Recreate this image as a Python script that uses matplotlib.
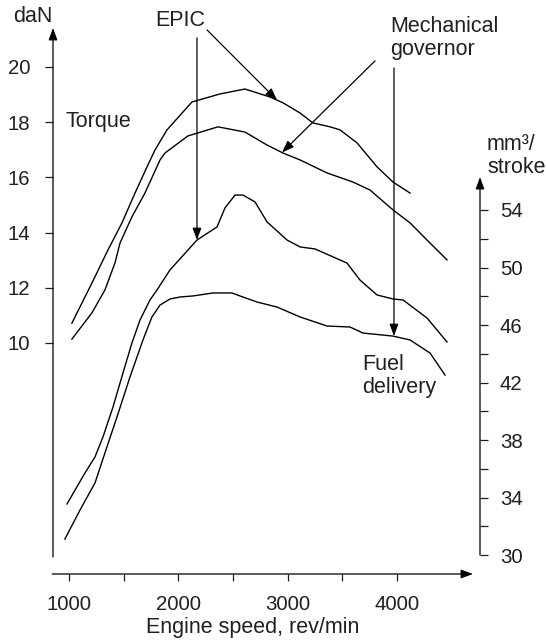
import numpy as np
import matplotlib.pyplot as plt

plt.rcParams['font.family'] = ['Liberation Sans', 'DejaVu Sans']
plt.rcParams['font.size'] = 14.7
INK = '#231f20'
LABEL_SIZE = 15.5

# torque, daN (left scale)
rpm_tq_epic = [1027, 1210, 1357, 1485, 1604, 1714, 1787, 1897, 2125, 2381, 2610, 2839,
               2958, 3114, 3232, 3388, 3479, 3635, 3818, 3964, 4120]
tq_epic = [10.72, 12.17, 13.37, 14.35, 15.43, 16.38, 16.99, 17.72, 18.73, 19.02, 19.20,
           18.91, 18.70, 18.33, 17.97, 17.83, 17.72, 17.25, 16.38, 15.83, 15.43]

rpm_tq_mech = [1027, 1210, 1329, 1421, 1467, 1576, 1695, 1833, 1878, 2088, 2363, 2610,
               2812, 2958, 3114, 3360, 3598, 3754, 3964, 4120, 4275, 4458]
tq_mech = [10.14, 11.09, 11.92, 12.90, 13.62, 14.57, 15.43, 16.63, 16.88, 17.50, 17.83,
           17.64, 17.17, 16.88, 16.63, 16.16, 15.83, 15.54, 14.82, 14.35, 13.73, 13.01]

# fuel delivery, mm3/stroke (right scale)
rpm_fuel_epic = [982, 1146, 1238, 1311, 1403, 1494, 1576, 1650, 1741, 1805, 1924, 2171,
                 2354, 2427, 2519, 2592, 2702, 2812, 2995, 3114, 3251, 3543, 3662, 3818,
                 3964, 4056, 4275, 4458]
fuel_epic = [33.55, 35.70, 36.82, 38.21, 40.30, 42.66, 44.75, 46.35, 47.74, 48.43, 49.83,
             51.91, 52.82, 54.14, 55.04, 55.04, 54.56, 53.17, 51.91, 51.43, 51.29, 50.31,
             49.13, 48.09, 47.81, 47.74, 46.49, 44.82]

rpm_fuel_mech = [963, 1101, 1238, 1329, 1439, 1558, 1677, 1759, 1833, 1924, 2016, 2134,
                 2317, 2491, 2565, 2720, 2903, 3114, 3360, 3571, 3690, 3964, 4120, 4303,
                 4440]
fuel_mech = [31.11, 33.13, 35.01, 37.10, 39.60, 42.38, 44.96, 46.56, 47.39, 47.81, 47.95,
             48.02, 48.23, 48.23, 48.02, 47.60, 47.25, 46.56, 45.93, 45.86, 45.44, 45.23,
             44.96, 44.05, 42.52]

x_major = [1000, 2000, 3000, 4000]
x_minor = [1500, 2500, 3500]
tq_ticks = [10, 12, 14, 16, 18, 20]
fuel_major = [30, 34, 38, 42, 46, 50, 54]
fuel_minor = [32, 36, 40, 44, 48, 52]

W, H = 546, 642
fig = plt.figure(figsize=(W / 100, H / 100), dpi=100)
ax = fig.add_axes([53 / W, 1 - 574 / H, 427 / W, 546 / H])
ax2 = ax.twinx()
ax.set_xlim(854, 4760)
ax.set_ylim(1.63, 21.41)
ax2.set_ylim(28.68, 66.66)
for a in (ax, ax2):
    for s in a.spines.values():
        s.set_visible(False)
    a.patch.set_visible(False)

ax.set_xticks(x_major)
ax.set_xticks(x_minor, minor=True)
ax.set_yticks(tq_ticks)
ax.tick_params(axis='x', which='both', direction='out', length=5, width=0.9,
               pad=10, colors=INK)
ax.tick_params(axis='y', which='both', direction='out', length=5.8, width=0.9,
               pad=10.5, colors=INK)
ax2.set_yticks(fuel_major)
ax2.set_yticks(fuel_minor, minor=True)
ax2.tick_params(axis='y', which='both', direction='out', length=5.8, width=0.9,
                pad=8.5, colors=INK)

kw = dict(color='black', lw=1.0, solid_joinstyle='round')
ax.plot(rpm_tq_epic, tq_epic, **kw)
ax.plot(rpm_tq_mech, tq_mech, **kw)
ax2.plot(rpm_fuel_epic, fuel_epic, **kw)
ax2.plot(rpm_fuel_mech, fuel_mech, **kw)

head = dict(arrowstyle='-|>,head_length=0.6,head_width=0.22', mutation_scale=12,
            color='black', lw=0.9, shrinkA=0, shrinkB=0)

# axis lines with arrows
ax.annotate('', xy=(0, 1.0), xytext=(0, 0.031), xycoords='axes fraction', arrowprops=head)
ax.annotate('', xy=(0.9836, 0), xytext=(-0.002, 0), xycoords='axes fraction', arrowprops=head)
ax.annotate('', xy=(1, 0.727), xytext=(1, 0.0348), xycoords='axes fraction', arrowprops=head)

# pointers
ax.annotate('', xy=(2903, 18.80), xytext=(2263, 21.34), arrowprops=head)
ax.annotate('', xy=(2171, 51.91), xytext=(2171, 21.05), xycoords=ax2.transData,
            textcoords=ax.transData, arrowprops=head)
ax.annotate('', xy=(2949, 16.90), xytext=(3800, 20.22), arrowprops=head)
ax.annotate('', xy=(3973, 45.23), xytext=(3973, 19.96), xycoords=ax2.transData,
            textcoords=ax.transData, arrowprops=head)


def px(x, y):
    return x / W, 1 - y / H


lab = dict(color=INK, fontsize=LABEL_SIZE, linespacing=1.1)
fig.text(*px(33, 17), 'daN', ha='center', va='center', **lab)
fig.text(*px(180, 21), 'EPIC', ha='center', va='center', **lab)
fig.text(*px(390, 38), 'Mechanical\ngovernor', ha='left', va='center', **lab)
fig.text(*px(65, 121), 'Torque', ha='left', va='center', **lab)
fig.text(*px(487, 156), 'mm³/\nstroke', ha='left', va='center', **lab)
fig.text(*px(362, 376), 'Fuel\ndelivery', ha='left', va='center', **lab)
fig.text(*px(253, 627), 'Engine speed, rev/min', ha='center', va='center', **lab)

fig.savefig('out.png', dpi=100)
